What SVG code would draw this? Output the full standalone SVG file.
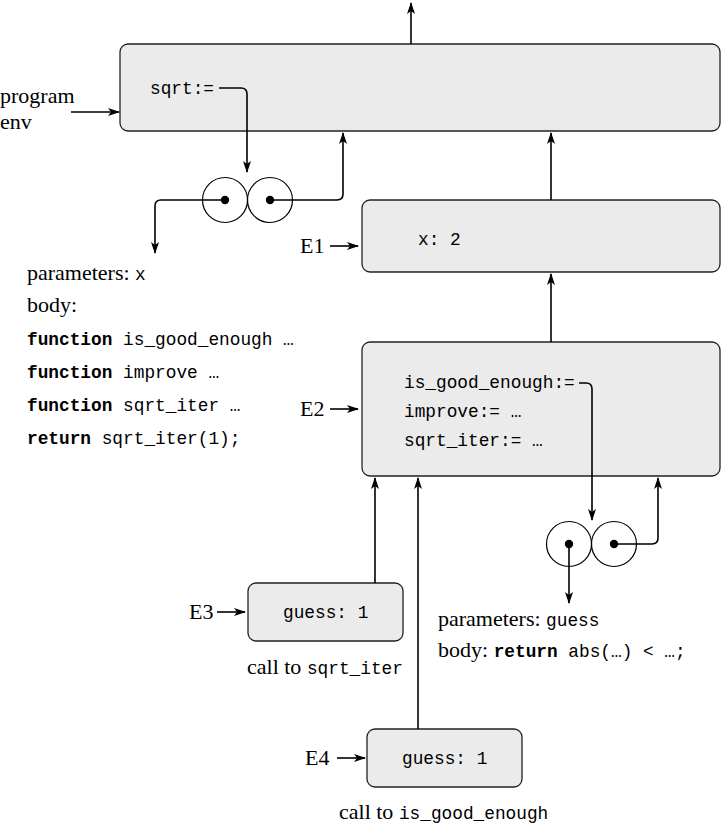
<svg xmlns="http://www.w3.org/2000/svg" width="722" height="825" viewBox="0 0 722 825">
<style>
.box{fill:#ebebeb;stroke:#222;stroke-width:1.3}
.ln{fill:none;stroke:#000;stroke-width:1.6}
.cir{fill:none;stroke:#000;stroke-width:1.2}
.dot{fill:#000}
.s{font-family:"Liberation Serif","DejaVu Serif",serif;font-size:22px;fill:#000}
.m{font-family:"Liberation Mono","DejaVu Sans Mono",monospace;font-size:17.8px;fill:#000}
.b{font-weight:bold}
</style>
<defs>
<marker id="ar" viewBox="0 0 12 8" refX="11" refY="4" markerWidth="12" markerHeight="8" markerUnits="userSpaceOnUse" orient="auto">
<path d="M0,0 L12,4 L0,8 L3,4 Z" fill="#000"/>
</marker>
</defs>
<g id="global">
<rect class="box" x="120" y="44" width="600" height="87" rx="8"/>
<text class="m" x="150" y="94">sqrt:=</text>
</g>
<g id="program-env">
<text class="s" x="0" y="103">program</text>
<text class="s" x="0" y="129">env</text>
</g>
<g id="sqrt-proc">
<circle class="cir" cx="225" cy="200" r="22.5"/>
<circle class="cir" cx="270" cy="200" r="22.5"/>
<circle class="dot" cx="225" cy="200" r="4.2"/>
<circle class="dot" cx="270" cy="200" r="4.2"/>
</g>
<g id="sqrt-text">
<text class="s" x="27" y="280">parameters: <tspan class="m">x</tspan></text>
<text class="s" x="27" y="312">body:</text>
<text class="m" x="27" y="345"><tspan class="b">function</tspan> is_good_enough …</text>
<text class="m" x="27" y="378"><tspan class="b">function</tspan> improve …</text>
<text class="m" x="27" y="411"><tspan class="b">function</tspan> sqrt_iter …</text>
<text class="m" x="27" y="444"><tspan class="b">return</tspan> sqrt_iter(1);</text>
</g>
<g id="E1">
<rect class="box" x="362" y="200" width="358" height="72" rx="8"/>
<text class="s" x="300" y="253">E1</text>
<text class="m" x="418" y="245">x: 2</text>
</g>
<g id="E2">
<rect class="box" x="362" y="342" width="358" height="134" rx="8"/>
<text class="s" x="300" y="416">E2</text>
<text class="m" x="404" y="388">is_good_enough:=</text>
<text class="m" x="404" y="417">improve:= …</text>
<text class="m" x="404" y="446">sqrt_iter:= …</text>
</g>
<g id="ige-proc">
<circle class="cir" cx="569" cy="544" r="22.5"/>
<circle class="cir" cx="614" cy="544" r="22.5"/>
<circle class="dot" cx="569" cy="544" r="4.2"/>
<circle class="dot" cx="614" cy="544" r="4.2"/>
<text class="s" x="438" y="626">parameters: <tspan class="m">guess</tspan></text>
<text class="s" x="438" y="657">body: <tspan class="m b">return</tspan><tspan class="m"> abs(…) &lt; …;</tspan></text>
</g>
<g id="E3">
<rect class="box" x="248" y="583" width="155" height="58" rx="8"/>
<text class="s" x="189" y="619">E3</text>
<text class="m" x="283" y="618">guess: 1</text>
<text class="s" x="247" y="674">call to <tspan class="m">sqrt_iter</tspan></text>
</g>
<g id="E4">
<rect class="box" x="367" y="729" width="155" height="58" rx="8"/>
<text class="s" x="305" y="765">E4</text>
<text class="m" x="402" y="764">guess: 1</text>
<text class="s" x="339" y="819">call to <tspan class="m">is_good_enough</tspan></text>
</g>
<g id="connectors">
<path class="ln" d="M411,44 V3" marker-end="url(#ar)"/>
<path class="ln" d="M71,112 H119" marker-end="url(#ar)"/>
<path class="ln" d="M219,88 H241 Q247,88 247,94 V172" marker-end="url(#ar)"/>
<path class="ln" d="M225,200 H161 Q155,200 155,206 V253" marker-end="url(#ar)"/>
<path class="ln" d="M270,200 H337 Q343,200 343,194 V133" marker-end="url(#ar)"/>
<path class="ln" d="M330,246 H358" marker-end="url(#ar)"/>
<path class="ln" d="M551,200 V133" marker-end="url(#ar)"/>
<path class="ln" d="M551,342 V274" marker-end="url(#ar)"/>
<path class="ln" d="M330,409 H358" marker-end="url(#ar)"/>
<path class="ln" d="M579,383 H586 Q592,383 592,389 V520" marker-end="url(#ar)"/>
<path class="ln" d="M569,544 V603" marker-end="url(#ar)"/>
<path class="ln" d="M614,544 H652 Q658,544 658,538 V478" marker-end="url(#ar)"/>
<path class="ln" d="M217,612 H245" marker-end="url(#ar)"/>
<path class="ln" d="M375,583 V478" marker-end="url(#ar)"/>
<path class="ln" d="M337,758 H365" marker-end="url(#ar)"/>
<path class="ln" d="M418,729 V478" marker-end="url(#ar)"/>
</g>
</svg>
